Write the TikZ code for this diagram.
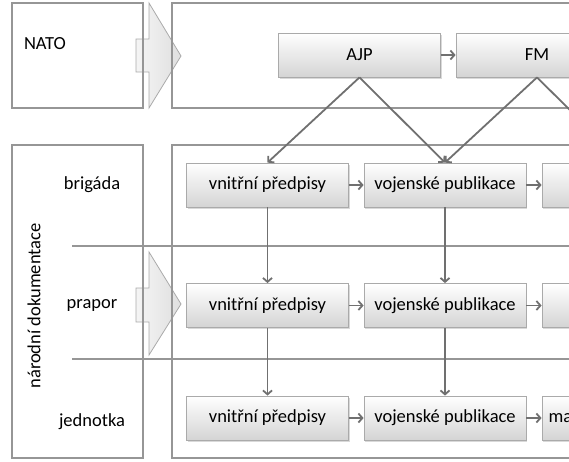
\documentclass[tikz,border=0pt]{standalone}
\usepackage{fontspec}
\setmainfont{Carlito}
\usetikzlibrary{arrows.meta,shadows}
\definecolor{framegray}{RGB}{150,150,150}
\definecolor{linkgray}{RGB}{112,112,112}
\definecolor{boxline}{RGB}{170,170,170}
\definecolor{boxbottom}{RGB}{212,212,212}
\begin{document}
\begin{tikzpicture}
[x=1pt,y=-1pt, font=\fontsize{18.5}{22}\selectfont,
frame/.style={draw=framegray, line width=1.7pt},
sep/.style={draw=framegray, line width=1.2pt},
bigarrow/.style={draw=boxline, line width=0.8pt, left color=gray!8, right color=gray!25},
doc/.style={rectangle, draw=boxline, line width=0.8pt, top color=white, bottom color=boxbottom,
  minimum width=162pt, minimum height=44pt,
  drop shadow={shadow xshift=1pt, shadow yshift=-1.5pt, opacity=0.3}},
every edge/.style={draw=linkgray, line width=1.8pt, -{Straight Barb[length=4pt,width=9pt]}}]
\clip (0,0) rectangle (569,461);

\draw[bigarrow] (136,39) -- (149,39) -- (149,3) -- (181,56) -- (149,108) -- (149,72) -- (136,72) -- cycle;
\draw[bigarrow] (136,288) -- (149,288) -- (149,252) -- (181,304) -- (149,355) -- (149,322) -- (136,322) -- cycle;

\draw[frame] (12,3) rectangle (143,108);
\draw[frame] (172,3) rectangle (610,108);
\draw[frame] (12,145) rectangle (143,458);
\draw[frame] (172,145) rectangle (610,458);
\draw[sep] (72,246) -- (610,246);
\draw[sep] (72,359) -- (610,359);

\node (nato) at (45,44) {NATO};
\node (brig) at (92,185) {brigáda};
\node (prap) at (92,305) {prapor};
\node (jedn) at (92,422) {jednotka};
\node (nar) at (34,306) [rotate=90] {národní dokumentace};

\node (ajp) at (359.5,55) [doc] {AJP};
\node (fm) at (537,55) [doc] {FM};

\node (vp1) at (267.5,185) [doc] {vnitřní předpisy};
\node (pub1) at (445,185) [doc] {vojenské publikace};
\node (ma1) at (623,185) [doc] {};
\node (vp2) at (267.5,305.5) [doc] {vnitřní předpisy};
\node (pub2) at (445,305.5) [doc] {vojenské publikace};
\node (ma2) at (623,305.5) [doc] {};
\node (vp3) at (267.5,418) [doc] {vnitřní předpisy};
\node (pub3) at (445,418) [doc] {vojenské publikace};
\node (ma3) at (623,418) [doc, text width=149pt, align=left] {ma};

\draw (ajp) edge (fm);
\draw (ajp.south) edge (vp1.north);
\draw (ajp.south) edge (pub1.north);
\draw (fm.south) edge (pub1.north);
\draw (fm.south) edge (ma1.north);

\draw (vp1) edge (pub1);
\draw (pub1) edge (ma1);
\draw (vp2) edge (pub2);
\draw (pub2) edge (ma2);
\draw (vp3) edge (pub3);
\draw (pub3) edge (ma3);

\draw (vp1) edge (vp2);
\draw (vp2) edge (vp3);
\draw (pub1) edge (pub2);
\draw (pub2) edge (pub3);

\end{tikzpicture}
\end{document}
